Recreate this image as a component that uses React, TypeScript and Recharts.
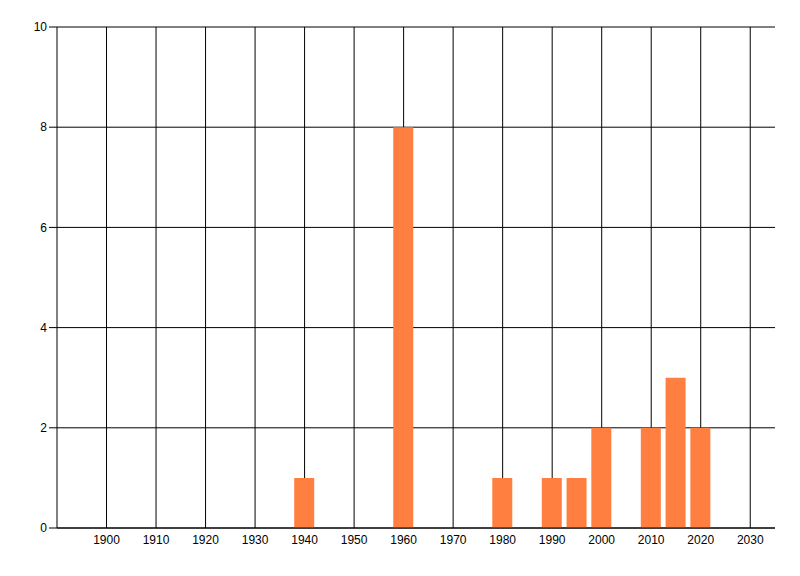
import React from "react";
import { ComposedChart, Bar, XAxis, YAxis, CartesianGrid } from "recharts";

const years = [1940, 1960, 1980, 1990, 1995, 2000, 2010, 2015, 2020];
const counts = [1, 8, 1, 1, 1, 2, 2, 3, 2];
const xTicks = [1900, 1910, 1920, 1930, 1940, 1950, 1960, 1970, 1980, 1990, 2000, 2010, 2020, 2030];
const yTicks = [0, 2, 4, 6, 8, 10];

const data = years.map((y, i) => ({ year: y, count: counts[i] }));

const tickStyle = { fontFamily: "'Liberation Sans Narrow', 'Liberation Sans', Arial, sans-serif", fontSize: 12, fill: "#000" };

export default function App() {
  return (
    <ComposedChart
      width={790}
      height={560}
      data={data}
      margin={{ top: 19, right: 23, bottom: 0, left: 0 }}
    >
      <CartesianGrid stroke="#000" strokeWidth={1} syncWithTicks />
      <XAxis
        dataKey="year"
        type="number"
        domain={[1890, 2035]}
        ticks={xTicks}
        allowDataOverflow
        interval={0}
        tickLine={false}
        tickSize={6}
        tickMargin={1}
        height={40}
        axisLine={{ stroke: "#000" }}
        tick={tickStyle}
      />
      <YAxis
        type="number"
        domain={[0, 10]}
        ticks={yTicks}
        width={49}
        tickSize={8}
        tickMargin={2}
        axisLine={{ stroke: "#000" }}
        tickLine={{ stroke: "#000" }}
        tick={tickStyle}
      />
      <Bar dataKey="count" fill="#FF7F40" barSize={20} isAnimationActive={false} />
    </ComposedChart>
  );
}
